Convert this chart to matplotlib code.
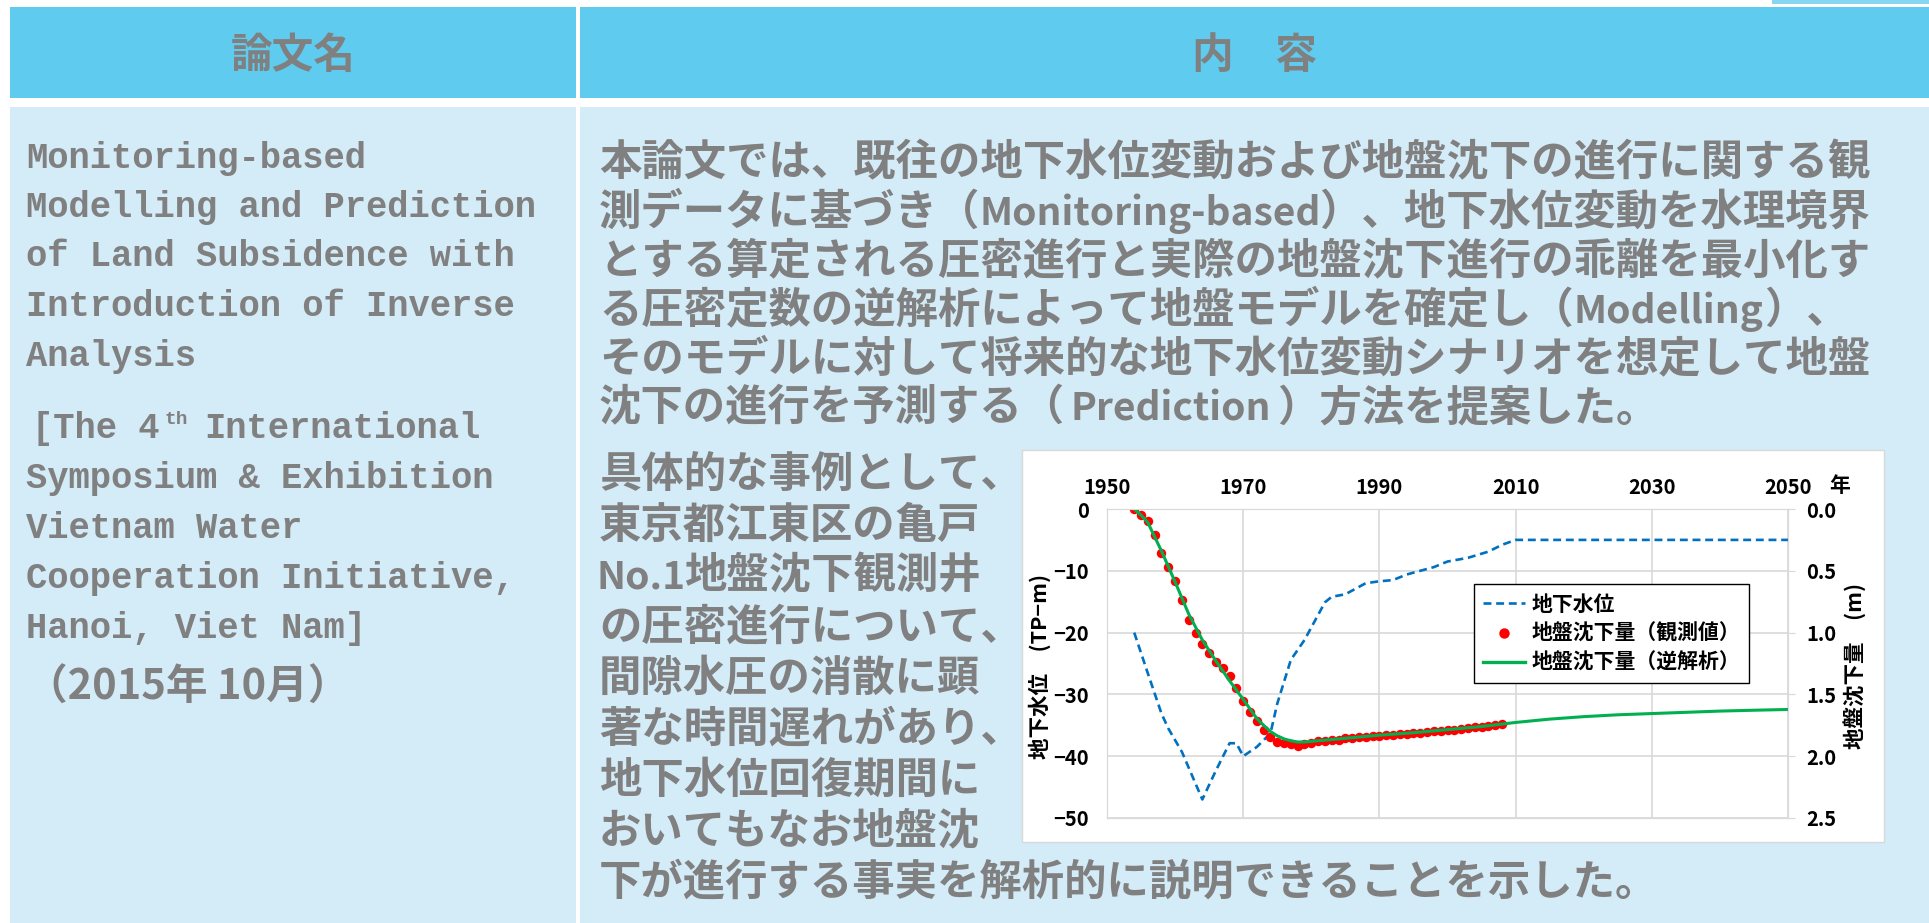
import itertools
import matplotlib.pyplot as plt
from matplotlib.patches import Rectangle
from matplotlib.lines import Line2D

W, H = 1929, 923

# groundwater level (TP-m)
gw_years = [1954, 1956, 1958, 1959, 1961, 1964, 1966, 1968, 1969, 1970, 1972, 1974,
            1975, 1977, 1979, 1982, 1983, 1985, 1988, 1990, 1992, 1994, 1998, 2000,
            2003, 2006, 2008, 2010, 2050]
gw_level = [-20.0, -26.6, -33.1, -35.5, -39.3, -47.0, -42.3, -37.9, -37.9, -40.0, -38.5, -36.3,
            -31.5, -24.4, -21.2, -15.1, -14.2, -13.8, -12.0, -11.7, -11.5, -10.6, -9.4, -8.5,
            -7.9, -6.9, -5.8, -5.0, -5.0]

# observed subsidence (m), one point a year 1954-2008
obs_years = list(range(1954, 2009))
obs_sub = [0.0, 0.05, 0.10, 0.21, 0.355, 0.47, 0.58, 0.74, 0.90, 1.005,
           1.09, 1.165, 1.235, 1.29, 1.35, 1.445, 1.55, 1.64, 1.715, 1.79,
           1.845, 1.885, 1.895, 1.905, 1.915, 1.905, 1.89, 1.88, 1.875, 1.87,
           1.865, 1.855, 1.85, 1.845, 1.845, 1.84, 1.835, 1.83, 1.825, 1.82,
           1.8175, 1.815, 1.81, 1.805, 1.80, 1.795, 1.79, 1.785, 1.78, 1.775,
           1.7675, 1.76, 1.755, 1.7475, 1.74]

# subsidence from back analysis (m)
inv_years = [1954, 1955, 1956, 1958, 1960, 1962, 1964, 1966, 1968, 1970, 1972, 1973,
             1974, 1975, 1976, 1977, 1978, 1979, 1980, 1985, 1990, 1995, 2000, 2005,
             2008, 2010, 2015, 2020, 2025, 2030, 2035, 2040, 2045, 2050]
inv_sub = [0.0, 0.05, 0.11, 0.34, 0.59, 0.85, 1.06, 1.23, 1.39, 1.54, 1.695, 1.75,
           1.80, 1.835, 1.86, 1.875, 1.885, 1.885, 1.88, 1.855, 1.83, 1.81, 1.785, 1.76,
           1.74, 1.727, 1.70, 1.68, 1.665, 1.655, 1.645, 1.635, 1.628, 1.622]

x_ticks = [1950, 1970, 1990, 2010, 2030, 2050]
left_ticks = [0, -10, -20, -30, -40, -50]
right_ticks = [0.0, 0.5, 1.0, 1.5, 2.0, 2.5]
series_names = ['地下水位', '地盤沈下量（観測値）', '地盤沈下量（逆解析）']

title_lines = ['Monitoring-based', 'Modelling and Prediction', 'of Land Subsidence with',
               'Introduction of Inverse', 'Analysis']
venue_lines = ['Symposium & Exhibition', 'Vietnam Water', 'Cooperation Initiative,',
               'Hanoi, Viet Nam]']
date_text = '（2015年 10月）'

para1 = ['本論文では、既往の地下水位変動および地盤沈下の進行に関する観',
         '測データに基づき（Monitoring-based）、地下水位変動を水理境界',
         'とする算定される圧密進行と実際の地盤沈下進行の乖離を最小化す',
         'る圧密定数の逆解析によって地盤モデルを確定し（Modelling）、',
         'そのモデルに対して将来的な地下水位変動シナリオを想定して地盤',
         '沈下の進行を予測する（Prediction）方法を提案した。']
para2 = ['具体的な事例として、', '東京都江東区の亀戸', 'No.1地盤沈下観測井',
         'の圧密進行について、', '間隙水圧の消散に顕', '著な時間遅れがあり、',
         '地下水位回復期間に', 'おいてもなお地盤沈',
         '下が進行する事実を解析的に説明できることを示した。']

plt.rcParams['font.family'] = ['Noto Sans CJK JP', 'DejaVu Sans']
GRAY = '#808080'
HEAD = '#5ecbef'
BODY = '#d4ebf8'
BODY_PT = 30.5
EM = BODY_PT * 100 / 72     # full-width cell in px
HALF = EM / 2               # half-width cell (latin) in px

fig = plt.figure(figsize=(W / 100, H / 100), dpi=100)
fig.patch.set_facecolor('white')

# page background drawn in pixel coordinates
bg = fig.add_axes([0, 0, 1, 1])
bg.set_xlim(0, W)
bg.set_ylim(H, 0)
bg.axis('off')


def body_line(x, y, s):
    # japanese in full-width cells, latin runs squeezed into half-width cells
    base = y + 14.5
    for is_latin, grp in itertools.groupby(s, key=lambda c: ord(c) < 128):
        part = ''.join(grp)
        if is_latin:
            span = len(part) * HALF
            bg.text(x + span / 2, base, part, fontsize=28, fontweight='bold', color=GRAY,
                    ha='center', va='baseline')
            x += span
        else:
            bg.text(x, base, part, fontsize=BODY_PT, fontweight='bold', color=GRAY,
                    ha='left', va='baseline')
            x += len(part) * EM


bg.add_patch(Rectangle((1772, 0), W - 1772, 4, fc='#86d6f2', ec='none'))
bg.add_patch(Rectangle((10, 7), 566, 91, fc=HEAD, ec='none'))
bg.add_patch(Rectangle((580, 7), W - 580, 91, fc=HEAD, ec='none'))
bg.add_patch(Rectangle((10, 107), 566, H - 107, fc=BODY, ec='none'))
bg.add_patch(Rectangle((580, 107), W - 580, H - 107, fc=BODY, ec='none'))

bg.text(293, 56, '論文名', ha='center', va='center', fontsize=30, fontweight='bold', color=GRAY)
bg.text(1254, 56, '内　容', ha='center', va='center', fontsize=30, fontweight='bold', color=GRAY)

mono = dict(family=['Liberation Mono', 'DejaVu Sans Mono'], fontsize=25.6,
            fontweight='bold', color=GRAY, va='center', ha='left')
for i, s in enumerate(title_lines):
    bg.text(26, 158 + i * 49.5, s, **mono)
bg.text(32, 428, '[The 4', **mono)
bg.text(164, 420, 'th', **{**mono, 'fontsize': 14})
bg.text(204, 428, 'International', **mono)
for i, s in enumerate(venue_lines):
    bg.text(26, 478 + i * 50, s, **mono)
bg.text(26, 688, date_text, fontsize=30, fontweight='bold', color=GRAY, va='center', ha='left')

for i, s in enumerate(para1):
    body_line(599, 161 + i * 49, s)
for i, s in enumerate(para2):
    body_line(599, 472 + i * 51, s)

# chart panel
bg.add_patch(Rectangle((1022, 450), 862, 392, fc='white', ec='#d9d9d9', lw=1))
bg.text(1840, 486, '年', ha='center', va='center', fontsize=15, fontweight='bold')
bg.text(1040, 666, '地下水位　(TP−m)', rotation=90, ha='center', va='center', fontsize=15.5, fontweight='bold')
bg.text(1855, 666, '地盤沈下量　(m)', rotation=90, ha='center', va='center', fontsize=15.5, fontweight='bold')

ax = fig.add_axes([1107 / W, 1 - 818 / H, 681 / W, 309 / H])
ax.set_xlim(1950, 2050)
ax.set_ylim(-50, 0)
ax.set_xticks(x_ticks)
ax.set_yticks(left_ticks)
ax.xaxis.tick_top()
ax.tick_params(axis='x', length=0, pad=8, labelsize=14.5)
ax.tick_params(axis='y', length=0, pad=13, labelsize=14.5)
ax.grid(color='#d9d9d9', lw=1.2)
ax.set_axisbelow(True)
for sp in ax.spines.values():
    sp.set_color('#d9d9d9')
for lab in ax.get_xticklabels() + ax.get_yticklabels():
    lab.set_fontweight('bold')

ax.plot(gw_years, gw_level, color='#0070c0', lw=1.9, dashes=(3, 1.8))

ax2 = ax.twinx()
ax2.set_ylim(2.5, 0)
ax2.set_yticks(right_ticks)
ax2.set_yticklabels([f'{v:.1f}' for v in right_ticks], fontweight='bold')
ax2.tick_params(axis='y', length=5, color='#d9d9d9', pad=8, labelsize=14.5)
for sp in ax2.spines.values():
    sp.set_color('#d9d9d9')

ax2.plot(obs_years, obs_sub, 'o', color='#ff0000', ms=6.8, mec='none')
ax2.plot(inv_years, inv_sub, color='#00b050', lw=2.2)

handles = [Line2D([], [], color='#0070c0', lw=1.9, dashes=(3, 1.8)),
           Line2D([], [], color='#ff0000', marker='o', ls='none', ms=7.5, mec='none'),
           Line2D([], [], color='#00b050', lw=2.4)]
leg = ax2.legend(handles, series_names, loc='upper left', bbox_to_anchor=(0.539, 0.757),
                 borderaxespad=0, fancybox=False, framealpha=1, edgecolor='black',
                 prop={'size': 15, 'weight': 'bold'}, handlelength=2.0, handletextpad=0.3,
                 labelspacing=0.4, borderpad=0.45)
leg.get_frame().set_linewidth(1)

fig.savefig('out.png', dpi=100)
